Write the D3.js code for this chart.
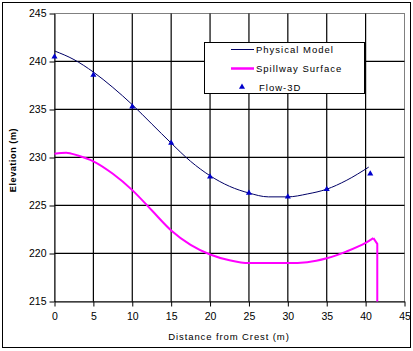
<!DOCTYPE html>
<html>
<head>
<meta charset="utf-8">
<script src="https://cdn.jsdelivr.net/npm/d3@7"></script>
<style>
  body { margin: 0; background: #fff; }
  text { font-family: Arial, "Liberation Sans", sans-serif; fill: #000; }
</style>
</head>
<body>
<div id="chart"></div>
<script>
// data
const physicalModel = [
    [0, 241.1], [2.5, 240.2], [5, 238.9], [7.5, 237.3], [10, 235.5], [12.5, 233.5],
    [15, 231.5], [17.5, 229.6], [20, 228.1], [22.5, 227.0], [25, 226.3], [27.5, 225.9],
    [30, 225.9], [32.5, 226.2], [35, 226.7], [37.5, 227.6], [40.4, 229.0]
];
const spillwaySurface = [
    [0, 230.4], [1.5, 230.5], [3, 230.2], [5, 229.6], [7.5, 228.3], [10, 226.6],
    [12.5, 224.5], [15, 222.4], [17.5, 220.9], [20, 219.9], [22.5, 219.3], [25, 219.0],
    [30, 219.0], [32.5, 219.1], [35, 219.5], [37.5, 220.2], [40, 221.1], [41, 221.6]
];
const spillwayEnd = [[41, 221.6], [41.5, 221.0], [41.5, 215]];
const flow3D = [
    [0, 240.5], [5, 238.6], [10, 235.3], [15, 231.5], [20, 228.0],
    [25, 226.3], [30, 225.9], [35, 226.7], [40.6, 228.3]
];
const xTicks = [0, 5, 10, 15, 20, 25, 30, 35, 40, 45];
const yTicks = [215, 220, 225, 230, 235, 240, 245];
const legendNames = ["Physical Model", "Spillway Surface", "Flow-3D"];

const width = 413, height = 351;
const svg = d3.select("#chart").append("svg")
    .attr("width", width)
    .attr("height", height);

// outer chart border
svg.append("rect")
    .attr("x", 2.5).attr("y", 2.5)
    .attr("width", 408).attr("height", 345)
    .attr("fill", "#fff")
    .attr("stroke", "#000")
    .attr("stroke-width", 1);

const x = d3.scaleLinear().domain([0, 45]).range([54.5, 404.5]);
const y = d3.scaleLinear().domain([215, 245]).range([301.5, 13.5]);

// plot area frame (grey on top/right)
svg.append("rect")
    .attr("x", x(0)).attr("y", y(245))
    .attr("width", x(45) - x(0)).attr("height", y(215) - y(245))
    .attr("fill", "none")
    .attr("stroke", "#808080");

// vertical grid lines
const grid = svg.append("g").attr("stroke", "#000").attr("stroke-width", 1.2);
for (const t of xTicks.slice(1, -1)) {
    grid.append("line")
        .attr("x1", x(t)).attr("x2", x(t))
        .attr("y1", y(245)).attr("y2", y(215));
}

// axes
const xAxis = svg.append("g")
    .attr("transform", `translate(0,${y(215)})`)
    .call(d3.axisBottom(x).tickValues(xTicks).tickSize(5).tickSizeOuter(0).tickPadding(6));
const yAxis = svg.append("g")
    .attr("transform", `translate(${x(0)},0)`)
    .call(d3.axisLeft(y).tickValues(yTicks).tickSize(5).tickSizeOuter(0).tickPadding(3));
[xAxis, yAxis].forEach(a => {
    a.selectAll(".domain, line").attr("stroke", "#000");
    a.selectAll("text").attr("font-size", "10.5px").attr("fill", "#000")
        .attr("font-family", "Arial, 'Liberation Sans', sans-serif");
});

// horizontal grid lines, drawn from the y scale
const hgrid = svg.append("g");
hgrid.selectAll("path")
    .data(yTicks.slice(1, -1))
    .join("path")
    .attr("d", d => `M${x(0)},${y(d) - 0.2}H${x(45)}`)
    .attr("fill", "none")
    .attr("stroke", "#000")
    .attr("stroke-width", 1.3);

// axis titles
svg.append("text")
    .attr("x", 229).attr("y", 340)
    .attr("text-anchor", "middle")
    .attr("font-size", "9.5px")
    .attr("letter-spacing", "0.9px")
    .text("Distance from Crest (m)");
svg.append("text")
    .attr("transform", "translate(16,160) rotate(-90)")
    .attr("text-anchor", "middle")
    .attr("font-size", "9px")
    .attr("font-weight", "bold")
    .attr("letter-spacing", "0.6px")
    .text("Elevation (m)");

// series
const smooth = d3.line().x(d => x(d[0])).y(d => y(d[1])).curve(d3.curveMonotoneX);
const straight = d3.line().x(d => x(d[0])).y(d => y(d[1]));

svg.append("path")
    .attr("d", smooth(spillwaySurface))
    .attr("fill", "none")
    .attr("stroke", "#ff00ff")
    .attr("stroke-width", 2);
svg.append("path")
    .attr("d", straight(spillwayEnd))
    .attr("fill", "none")
    .attr("stroke", "#ff00ff")
    .attr("stroke-width", 2);

svg.append("path")
    .attr("d", smooth(physicalModel))
    .attr("fill", "none")
    .attr("stroke", "#000066")
    .attr("stroke-width", 1);

const tri = d3.symbol().type(d3.symbolTriangle).size(16);
svg.append("g").selectAll("path")
    .data(flow3D)
    .join("path")
    .attr("d", tri)
    .attr("transform", d => `translate(${x(d[0])},${y(d[1])})`)
    .attr("fill", "#0000cc");

// legend
const lg = svg.append("g");
lg.append("rect")
    .attr("x", 204.5).attr("y", 42.5)
    .attr("width", 160).attr("height", 51)
    .attr("fill", "#fff")
    .attr("stroke", "#000");
const rowY = [49.5, 68.5, 87];
lg.append("line")
    .attr("x1", 231).attr("x2", 254).attr("y1", rowY[0]).attr("y2", rowY[0])
    .attr("stroke", "#000066").attr("stroke-width", 1);
lg.append("line")
    .attr("x1", 231).attr("x2", 254).attr("y1", rowY[1]).attr("y2", rowY[1])
    .attr("stroke", "#ff00ff").attr("stroke-width", 2.5);
lg.append("path")
    .attr("d", tri)
    .attr("transform", `translate(242,${rowY[2]})`)
    .attr("fill", "#0000cc");
lg.selectAll("text.leg")
    .data(legendNames)
    .join("text")
    .attr("class", "leg")
    .attr("x", (d, i) => i === 2 ? 259 : 256)
    .attr("y", (d, i) => rowY[i] + 3.5)
    .attr("font-size", "9.5px")
    .attr("letter-spacing", "1px")
    .text(d => d);
</script>
</body>
</html>
